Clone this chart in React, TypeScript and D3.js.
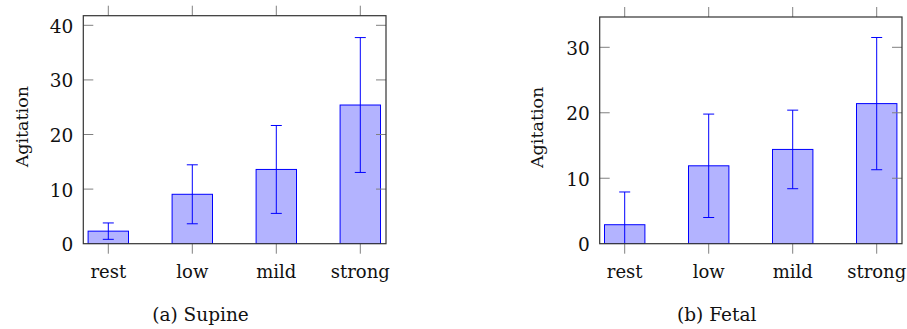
import React, { useRef, useEffect } from "react";
import * as d3 from "d3";

const categories = ["rest", "low", "mild", "strong"];

const supineMean = [2.3, 9.05, 13.6, 25.4];
const supineErr = [1.5, 5.4, 8.05, 12.35];
const supineTicks = [0, 10, 20, 30, 40];

const fetalMean = [2.9, 11.9, 14.4, 21.4];
const fetalErr = [5.0, 7.9, 6.0, 10.1];
const fetalTicks = [0, 10, 20, 30];

const captions = ["(a) Supine", "(b) Fetal"];

const font = "'DejaVu Serif', serif";

interface PanelProps {
    id: string
    left: number
    right: number
    top: number
    bottom: number
    firstX: number
    lastX: number
    yMax: number
    yTicks: number[]
    means: number[]
    errs: number[]
    labelX: number
    caption: string
    captionX: number
}

function drawPanel(svg: d3.Selection<SVGSVGElement, unknown, null, undefined>, p: PanelProps) {
    const x = d3.scalePoint<string>().domain(categories).range([p.firstX, p.lastX]);
    const y = d3.scaleLinear().domain([0, p.yMax]).range([p.bottom, p.top]);

    const g = svg.append("g");

    g.append("clipPath").attr("id", `clip-${p.id}`)
        .append("rect")
        .attr("x", p.left).attr("y", p.top)
        .attr("width", p.right - p.left).attr("height", p.bottom - p.top);

    const plot = g.append("g").attr("clip-path", `url(#clip-${p.id})`);
    const barW = 40.4;

    // bars
    plot.selectAll("rect.bar")
        .data(p.means)
        .join("rect")
        .attr("class", "bar")
        .attr("x", (_, i) => (x(categories[i]) as number) - barW / 2)
        .attr("y", (d) => y(d))
        .attr("width", barW)
        .attr("height", (d) => y(0) - y(d))
        .attr("fill", "#b3b3ff")
        .attr("stroke", "#0000ff")
        .attr("stroke-width", 1);

    // error bars
    p.means.forEach((m, i) => {
        const cx = x(categories[i]) as number;
        const hi = y(m + p.errs[i]);
        const lo = y(m - p.errs[i]);
        plot.append("line").attr("x1", cx).attr("x2", cx).attr("y1", hi).attr("y2", lo)
            .attr("stroke", "#0000ff").attr("stroke-width", 1);
        [hi, lo].forEach((yy) => {
            plot.append("line").attr("x1", cx - 5.5).attr("x2", cx + 5.5).attr("y1", yy).attr("y2", yy)
                .attr("stroke", "#0000ff").attr("stroke-width", 1);
        });
    });

    // y ticks (inside, both sides)
    p.yTicks.forEach((t) => {
        const yy = y(t);
        if (t !== 0) {
            g.append("line").attr("x1", p.left).attr("x2", p.left + 10).attr("y1", yy).attr("y2", yy)
                .attr("stroke", "#808080").attr("stroke-width", 1);
            g.append("line").attr("x1", p.right - 10).attr("x2", p.right).attr("y1", yy).attr("y2", yy)
                .attr("stroke", "#808080").attr("stroke-width", 1);
        }
        g.append("text")
            .attr("x", p.left - 10)
            .attr("y", yy + 7.5)
            .attr("text-anchor", "end")
            .attr("font-family", font)
            .attr("font-size", 18.5)
            .attr("fill", "#111")
            .text(t);
    });

    // x ticks (outside, top and bottom)
    categories.forEach((c) => {
        const cx = x(c) as number;
        g.append("line").attr("x1", cx).attr("x2", cx).attr("y1", p.top - 10).attr("y2", p.top)
            .attr("stroke", "#808080").attr("stroke-width", 1);
        g.append("line").attr("x1", cx).attr("x2", cx).attr("y1", p.bottom).attr("y2", p.bottom + 10)
            .attr("stroke", "#808080").attr("stroke-width", 1);
        g.append("text")
            .attr("x", cx)
            .attr("y", 278)
            .attr("text-anchor", "middle")
            .attr("font-family", font)
            .attr("font-size", 18)
            .attr("fill", "#111")
            .text(c);
    });

    // frame
    g.append("rect")
        .attr("x", p.left).attr("y", p.top)
        .attr("width", p.right - p.left).attr("height", p.bottom - p.top)
        .attr("fill", "none")
        .attr("stroke", "#333")
        .attr("stroke-width", 1.2);

    // y label
    g.append("text")
        .attr("transform", `translate(${p.labelX}, ${(p.top + p.bottom) / 2 - 3}) rotate(-90)`)
        .attr("text-anchor", "middle")
        .attr("font-family", font)
        .attr("font-size", 17.5)
        .attr("fill", "#111")
        .text("Agitation");

    // caption
    g.append("text")
        .attr("x", p.captionX)
        .attr("y", 321)
        .attr("text-anchor", "middle")
        .attr("font-family", font)
        .attr("font-size", 18.5)
        .attr("fill", "#111")
        .text(p.caption);
}

export default function App() {
    const svgRef = useRef<SVGSVGElement>(null);

    useEffect(() => {
        const svg = d3.select(svgRef.current as SVGSVGElement);
        svg.selectAll("*").remove();

        drawPanel(svg, {
            id: "a", left: 83.3, right: 386, top: 15.7, bottom: 243.7,
            firstX: 108.3, lastX: 360.3, yMax: 41.76, yTicks: supineTicks,
            means: supineMean, errs: supineErr, labelX: 28, caption: captions[0], captionX: 200.5,
        });
        drawPanel(svg, {
            id: "b", left: 599.7, right: 902, top: 17, bottom: 243.7,
            firstX: 624.7, lastX: 876.7, yMax: 34.63, yTicks: fetalTicks,
            means: fetalMean, errs: fetalErr, labelX: 543, caption: captions[1], captionX: 716.7,
        });
    }, []);

    return (
        <div style={{ position: "absolute", left: 0, top: 0, background: "#fff" }}>
            <svg ref={svgRef} width={907} height={329}></svg>
        </div>
    );
}
